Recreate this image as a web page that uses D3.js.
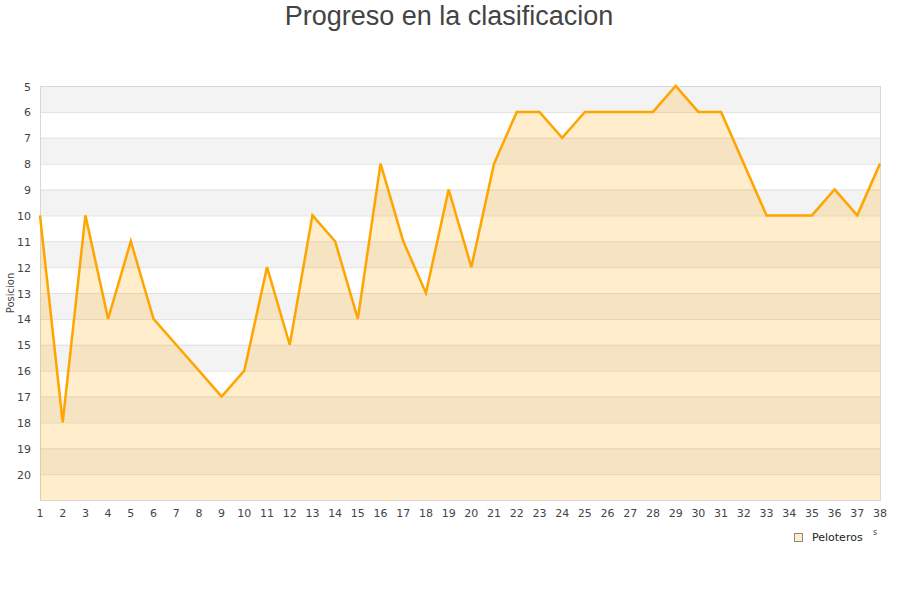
<!DOCTYPE html>
<html><head><meta charset="utf-8">
<script src="https://cdn.jsdelivr.net/npm/d3@7"></script>
<style>body{margin:0;background:#fff}</style>
</head><body>
<svg id="c" width="900" height="600"></svg>
<script>
const jornadas = [1,2,3,4,5,6,7,8,9,10,11,12,13,14,15,16,17,18,19,20,21,22,23,24,25,26,27,28,29,30,31,32,33,34,35,36,37,38];
const posiciones = [10,18,10,14,11,14,15,16,17,16,12,15,10,11,14,8,11,13,9,12,8,6,6,7,6,6,6,6,5,6,6,8,10,10,10,9,10,8];
const yTicks = [5,6,7,8,9,10,11,12,13,14,15,16,17,18,19,20];
const seriesName = "Peloteros";
const title = "Progreso en la clasificacion";
const yTitle = "Posicion";

const svg = d3.select("#c");
const L = 40, R = 880, T = 86, B = 500;
const x = d3.scaleLinear().domain([1,38]).range([L,R]);
const y = d3.scaleLinear().domain([5,21]).range([T,B]);

// bands
const bands = d3.range(5,21);
svg.append("g").selectAll("rect").data(bands).join("rect")
  .attr("x",L).attr("width",R-L)
  .attr("y",d=>y(d)).attr("height",d=>y(d+1)-y(d))
  .attr("fill",d=>(d%2===1)?"#f3f3f3":"#ffffff");
// grid lines
svg.append("g").selectAll("line").data(d3.range(6,21)).join("line")
  .attr("x1",L).attr("x2",R).attr("y1",d=>y(d)+0.5).attr("y2",d=>y(d)+0.5)
  .attr("stroke","#e0e0e0").attr("stroke-width",1);
// plot border
svg.append("rect").attr("x",L+0.5).attr("y",T+0.5).attr("width",R-L).attr("height",B-T)
  .attr("fill","none").attr("stroke","#d8d8d8");

const data = jornadas.map((j,i)=>({j, p:posiciones[i]}));
const area = d3.area().x(d=>x(d.j)).y0(y(21)).y1(d=>y(d.p));
svg.append("path").datum(data).attr("d",area)
  .attr("fill","#ffa500").attr("fill-opacity",0.2);
const line = d3.line().x(d=>x(d.j)).y(d=>y(d.p));
svg.append("path").datum(data).attr("d",line)
  .attr("fill","none").attr("stroke","#ffa500").attr("stroke-width",2.5).attr("stroke-linejoin","miter");

// y axis labels
svg.append("g").selectAll("text").data(yTicks).join("text")
  .attr("x",31).attr("y",d=>y(d)+4.5).attr("text-anchor","end")
  .attr("font-family","DejaVu Sans").attr("font-size",11).attr("fill","#444")
  .text(d=>d);
// x axis labels
svg.append("g").selectAll("text").data(jornadas).join("text")
  .attr("x",d=>x(d)).attr("y",517).attr("text-anchor","middle")
  .attr("font-family","DejaVu Sans").attr("font-size",11).attr("fill","#444")
  .text(d=>d);

// title
svg.append("text").attr("x",449).attr("y",25).attr("text-anchor","middle")
  .attr("font-family","Liberation Sans").attr("font-size",27).attr("fill","#444")
  .text(title);
// y title
svg.append("text").attr("transform","translate(14,293) rotate(-90)").attr("text-anchor","middle")
  .attr("font-family","DejaVu Sans").attr("font-size",10).attr("fill","#444")
  .text(yTitle);

// legend
svg.append("rect").attr("x",794.5).attr("y",533.5).attr("width",8).attr("height",8)
  .attr("fill","#ffa500").attr("fill-opacity",0.2).attr("stroke","#888").attr("stroke-width",1);
svg.append("text").attr("x",812).attr("y",541)
  .attr("font-family","DejaVu Sans").attr("font-size",11).attr("fill","#222")
  .text(seriesName);
svg.append("text").attr("x",873).attr("y",535)
  .attr("font-family","DejaVu Sans").attr("font-size",8).attr("fill","#444").text("s");
</script>
</body></html>
